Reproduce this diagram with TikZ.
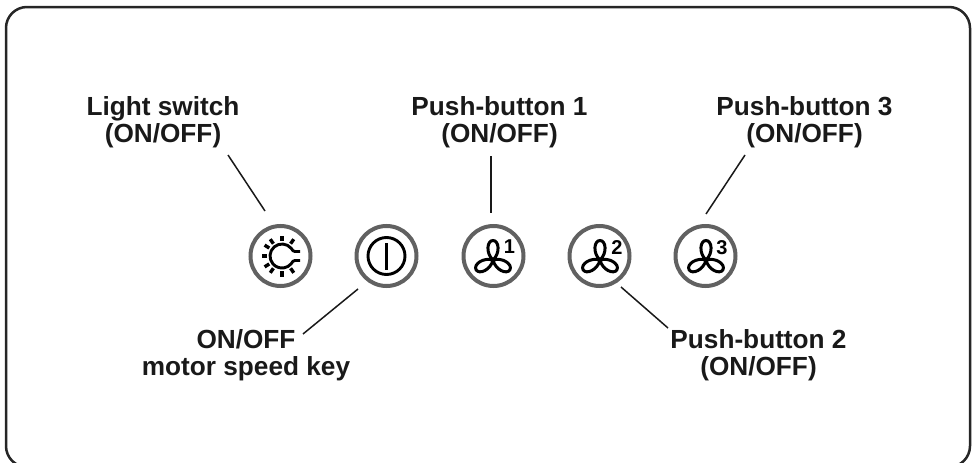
\documentclass[tikz,border=0pt]{standalone}
\usepackage{fontspec}
\setmainfont{Liberation Sans}
\tikzset{
 x=1pt,y=-1pt,
 panel/.style={draw=black!85,line width=2.5pt,rounded corners=21pt},
 btn/.style={circle,draw=black!62,line width=4pt,minimum size=60pt,inner sep=0pt,fill=white},
 lbl/.style={align=center,font=\fontsize{26.2}{27}\selectfont\bfseries,text=black!90,inner sep=0pt},
 lead/.style={draw=black!90,line width=1.5pt},
 icon/.style={draw=black,line width=2.9pt,line cap=round},
 digit/.style={font=\fontsize{20}{20}\selectfont\bfseries,inner sep=0pt,text=black},
}
\newcommand{\fanicon}[2]{%
 \begin{scope}[shift={(#1,#2)}]
 \foreach \a in {0,120,240}{
  \draw[icon,line width=3pt,rotate=\a] (0,0) .. controls (-7.5,-7) and (-6,-19.5) .. (0,-19.5) .. controls (6,-19.5) and (7.5,-7) .. (0,0);
 }
 \end{scope}}
\begin{document}
\begin{tikzpicture}
\useasboundingbox (0,0) rectangle (975,463);
\draw[panel] (6,7) rectangle (970,467);
\node[btn] (light) at (280.5,256) {};
\node[btn] (power) at (386.5,256) {};
\node[btn] (fan1) at (493.5,256) {};
\node[btn] (fan2) at (599.5,256) {};
\node[btn] (fan3) at (705.5,256) {};
% light icon
\begin{scope}[shift={(282,256)}]
 \draw[icon,line cap=butt] (18,-4.5) -- (13,-4.5) .. controls (11.5,-4.5) and (10.5,-5.5) .. (9.2,-7.7) arc (-40:-320:12) .. controls (10.5,5.5) and (11.5,4.5) .. (13,4.5) -- (18,4.5);
 \foreach \a in {55,90,125,148,180,212,235,270,305}{
  \draw[icon,line cap=butt,line width=3.4pt] (\a:15) -- (\a:20.5);
 }
\end{scope}
% power icon
\draw[icon] (386.5,256) circle (18.5);
\draw[icon,line cap=butt] (386.5,243) -- (386.5,269.5);
% fans
\fanicon{493}{260}
\fanicon{600}{260}
\fanicon{706}{260}
\node[digit] (d1) at (509.5,247) {1};
\node[digit] (d2) at (617,248) {2};
\node[digit] (d3) at (722,248) {3};
% labels
\node[lbl] (tlight) at (163,122.5) {Light switch\\(ON/OFF)};
\node[lbl] (tpb1) at (499.5,122.5) {Push-button 1\\(ON/OFF)};
\node[lbl] (tpb3) at (804.5,122.5) {Push-button 3\\(ON/OFF)};
\node[lbl] (tmotor) at (246,355.5) {ON/OFF\\motor speed key};
\node[lbl] (tpb2) at (758.5,355.5) {Push-button 2\\(ON/OFF)};
% connector ends
\coordinate (a1) at (228,155); \coordinate (b1) at (265,211);
\coordinate (a2) at (358,289); \coordinate (b2) at (303,334);
\coordinate (a3) at (491,156); \coordinate (b3) at (491,213);
\coordinate (a4) at (621,287); \coordinate (b4) at (668,328);
\coordinate (a5) at (745,155); \coordinate (b5) at (706,214);
\draw[lead] (a1) -- (b1);
\draw[lead] (a2) -- (b2);
\draw[lead] (a3) -- (b3);
\draw[lead] (a4) -- (b4);
\draw[lead] (a5) -- (b5);
\end{tikzpicture}
\end{document}
